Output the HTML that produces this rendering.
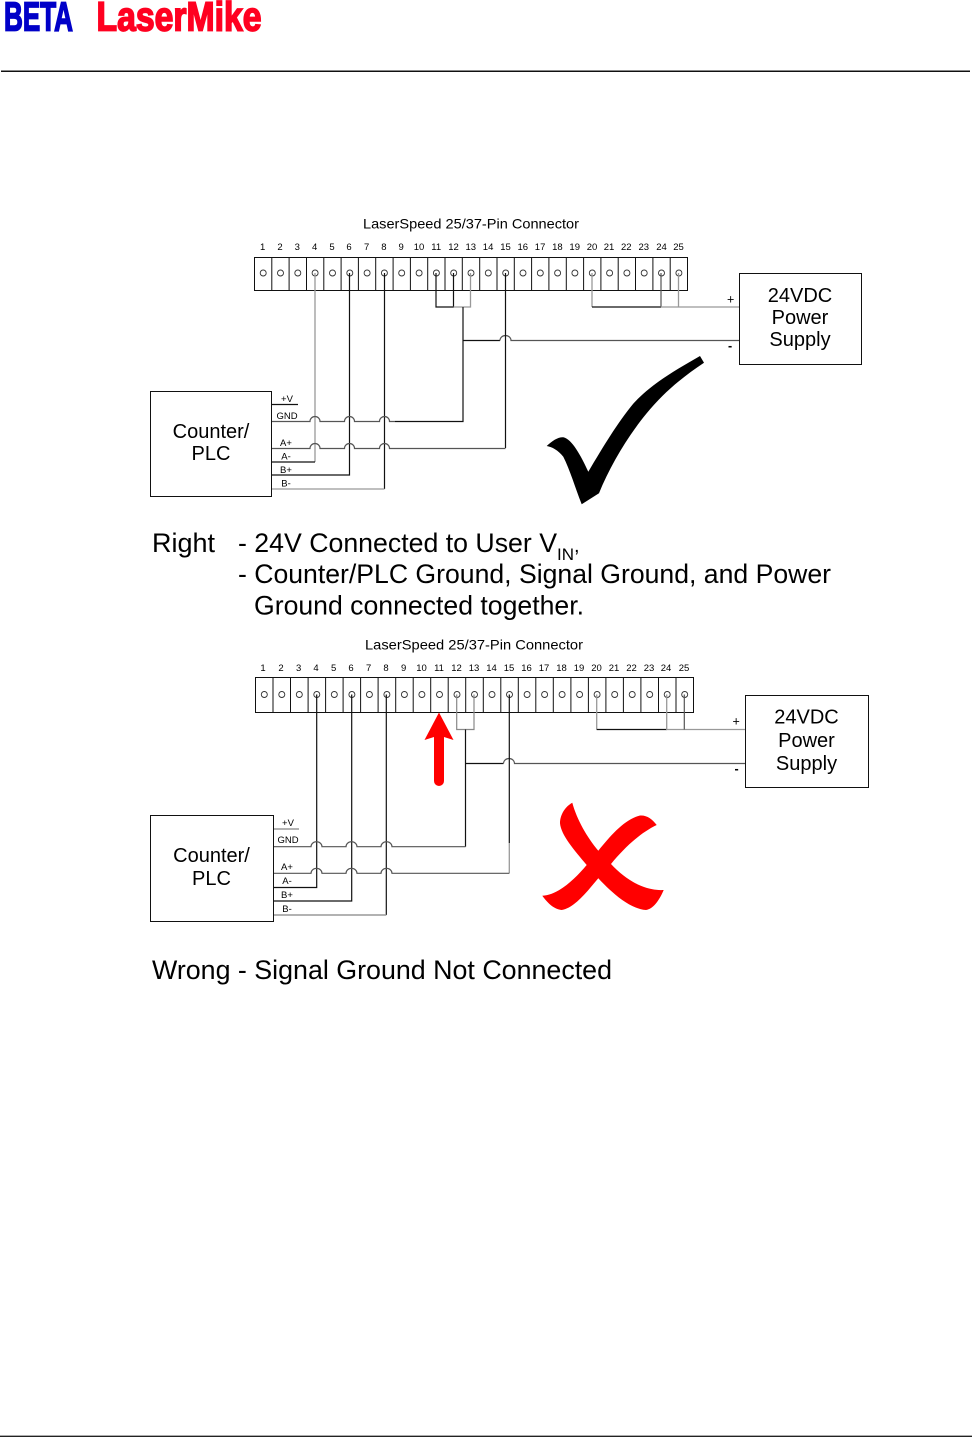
<!DOCTYPE html>
<html>
<head>
<meta charset="utf-8">
<title>LaserSpeed wiring</title>
<style>
html,body{margin:0;padding:0;background:#fff}
svg{display:block}
text{font-family:"Liberation Sans",Arial,sans-serif;fill:#000}
.n text{font-size:9.5px;text-anchor:middle}
.s text{font-size:9.5px;text-anchor:middle}
.b{font-size:20px;text-anchor:middle}
.m{font-size:27px}
.k{fill:none;stroke:#111;stroke-width:1.2}
.g{fill:none;stroke:#999;stroke-width:1.3}
.d{fill:none;stroke:#555;stroke-width:1.2}
.c circle{fill:none;stroke:#333;stroke-width:.9}
</style>
</head>
<body>
<svg width="972" height="1437" viewBox="0 0 972 1437" xmlns="http://www.w3.org/2000/svg">
<rect width="972" height="1437" fill="#fff"/>

<!-- header -->
<text x="4" y="30.5" font-size="41" font-weight="bold" textLength="69" lengthAdjust="spacingAndGlyphs" style="fill:#0000c8;stroke:#0000c8;stroke-width:1.7">BETA</text>
<text x="96.5" y="30.5" font-size="41" font-weight="bold" textLength="165" lengthAdjust="spacingAndGlyphs" style="fill:#ff0020;stroke:#ff0020;stroke-width:1.7">LaserMike</text>
<path d="M1 71.2H970" stroke="#111" stroke-width="1.5" fill="none"/>
<path d="M0 1436.3H972" stroke="#222" stroke-width="1.3" fill="none"/>

<!-- TOP DIAGRAM -->
<text x="363" y="228.5" font-size="14" textLength="216" lengthAdjust="spacingAndGlyphs">LaserSpeed 25/37-Pin Connector</text>
<g class="n">
<text x="262.7" y="250">1</text><text x="280" y="250">2</text><text x="297.3" y="250">3</text><text x="314.6" y="250">4</text><text x="332" y="250">5</text><text x="349" y="250">6</text><text x="366.6" y="250">7</text><text x="383.9" y="250">8</text><text x="401.2" y="250">9</text><text x="419" y="250">10</text><text x="436.2" y="250">11</text><text x="453.5" y="250">12</text><text x="470.8" y="250">13</text><text x="488.1" y="250">14</text><text x="505.5" y="250">15</text><text x="522.8" y="250">16</text><text x="540.1" y="250">17</text><text x="557.4" y="250">18</text><text x="574.7" y="250">19</text><text x="592" y="250">20</text><text x="609" y="250">21</text><text x="626.3" y="250">22</text><text x="643.8" y="250">23</text><text x="661.5" y="250">24</text><text x="678.5" y="250">25</text>
</g>
<rect x="254.5" y="257.5" width="433" height="33" fill="none" stroke="#111" stroke-width="1"/>
<path fill="none" stroke="#111" stroke-width="1" d="M271.8 257.5V290.5M289.1 257.5V290.5M306.5 257.5V290.5M323.8 257.5V290.5M341.1 257.5V290.5M358.4 257.5V290.5M375.7 257.5V290.5M393.1 257.5V290.5M410.4 257.5V290.5M427.7 257.5V290.5M445 257.5V290.5M462.3 257.5V290.5M479.7 257.5V290.5M497 257.5V290.5M514.3 257.5V290.5M531.6 257.5V290.5M548.9 257.5V290.5M566.3 257.5V290.5M583.6 257.5V290.5M600.9 257.5V290.5M618.2 257.5V290.5M635.5 257.5V290.5M652.9 257.5V290.5M670.2 257.5V290.5"/>
<g class="c">
<circle cx="263.2" cy="273" r="3"/><circle cx="280.5" cy="273" r="3"/><circle cx="297.8" cy="273" r="3"/><circle cx="315.1" cy="273" r="3"/><circle cx="332.5" cy="273" r="3"/><circle cx="349.8" cy="273" r="3"/><circle cx="367.1" cy="273" r="3"/><circle cx="384.4" cy="273" r="3"/><circle cx="401.7" cy="273" r="3"/><circle cx="419.1" cy="273" r="3"/><circle cx="436.4" cy="273" r="3"/><circle cx="453.7" cy="273" r="3"/><circle cx="471" cy="273" r="3"/><circle cx="488.3" cy="273" r="3"/><circle cx="505.7" cy="273" r="3"/><circle cx="523" cy="273" r="3"/><circle cx="540.3" cy="273" r="3"/><circle cx="557.6" cy="273" r="3"/><circle cx="574.9" cy="273" r="3"/><circle cx="592.3" cy="273" r="3"/><circle cx="609.6" cy="273" r="3"/><circle cx="626.9" cy="273" r="3"/><circle cx="644.2" cy="273" r="3"/><circle cx="661.5" cy="273" r="3"/><circle cx="678.9" cy="273" r="3"/>
</g>
<!-- top wires -->
<path class="g" d="M315 273V462"/>
<path class="k" d="M315 462H272"/>
<path class="k" d="M349.5 273V475H272"/>
<path class="k" d="M384.5 273V489"/>
<path class="g" d="M384.5 489H272"/>
<path class="k" d="M436 273V307H453.5V273"/>
<path class="g" d="M453.5 307H470.5V273"/>
<path class="k" d="M463 307V421.5H395"/>
<path class="d" d="M395 421.5H389.5a5 5 0 0 0 -10 0H354.5a5 5 0 0 0 -10 0H320a5 5 0 0 0 -10 0H272"/>
<path class="k" d="M463 340.5H500"/>
<path class="d" d="M500 340.5a5.5 5 0 0 1 11 0H739.5"/>
<path class="k" d="M505.5 273V448"/>
<path class="d" d="M505.5 448.5H389.5a5 5 0 0 0 -10 0H354.5a5 5 0 0 0 -10 0H320a5 5 0 0 0 -10 0H272"/>
<path class="g" d="M592 273V307"/>
<path class="k" d="M592 307H661"/>
<path class="d" d="M661 273V307"/>
<path class="g" d="M661 307H739.5M678.5 273V307"/>
<path class="k" d="M272 404.5H298"/>
<!-- top boxes -->
<rect x="739.5" y="273.5" width="122" height="91" fill="#fff" stroke="#111" stroke-width="1"/>
<text class="b" x="800" y="302">24VDC</text>
<text class="b" x="800" y="324">Power</text>
<text class="b" x="800" y="346">Supply</text>
<text x="727" y="303.5" font-size="12.5">+</text>
<text x="728" y="350" font-size="12.5" font-weight="bold">-</text>
<rect x="150.5" y="391.5" width="121" height="105" fill="#fff" stroke="#111" stroke-width="1"/>
<text class="b" x="211" y="438">Counter/</text>
<text class="b" x="211" y="460">PLC</text>
<g class="s">
<text x="287" y="402">+V</text><text x="287" y="419">GND</text><text x="286" y="446">A+</text><text x="286" y="459.5">A-</text><text x="286" y="473">B+</text><text x="286" y="486.5">B-</text>
</g>
<path fill="#000" d="M546.7 446C552 441 558 437 563.3 437.3C572 439 581 456 588.3 471.7C603 447 618 422 633 404C652 383 676 370 700 356L704 362.7C684 376 664 392 646.7 413.3C628 436 610 466 599 493.3L581.7 504.3C575 487 570 470 563.3 456.7C558 450 552 447 546.7 446Z"/>

<!-- RIGHT text -->
<text class="m" x="152" y="552" textLength="63" lengthAdjust="spacingAndGlyphs">Right</text>
<text class="m" x="238" y="552" textLength="319" lengthAdjust="spacingAndGlyphs">- 24V Connected to User V</text>
<text x="557" y="560" font-size="17" textLength="17" lengthAdjust="spacingAndGlyphs">IN</text>
<text x="574" y="552" font-size="20">,</text>
<text class="m" x="238" y="583" textLength="593" lengthAdjust="spacingAndGlyphs">- Counter/PLC Ground, Signal Ground, and Power</text>
<text class="m" x="254" y="614.5" textLength="330" lengthAdjust="spacingAndGlyphs">Ground connected together.</text>

<!-- BOTTOM DIAGRAM -->
<text x="365" y="649.5" font-size="14" textLength="218" lengthAdjust="spacingAndGlyphs">LaserSpeed 25/37-Pin Connector</text>
<g class="n">
<text x="263" y="671">1</text><text x="281" y="671">2</text><text x="298.7" y="671">3</text><text x="316" y="671">4</text><text x="333.7" y="671">5</text><text x="351" y="671">6</text><text x="368.7" y="671">7</text><text x="386" y="671">8</text><text x="403.7" y="671">9</text><text x="421.5" y="671">10</text><text x="439" y="671">11</text><text x="456.5" y="671">12</text><text x="474" y="671">13</text><text x="491.5" y="671">14</text><text x="509" y="671">15</text><text x="526.5" y="671">16</text><text x="544" y="671">17</text><text x="561.5" y="671">18</text><text x="579" y="671">19</text><text x="596.5" y="671">20</text><text x="614" y="671">21</text><text x="631.5" y="671">22</text><text x="649" y="671">23</text><text x="666" y="671">24</text><text x="684" y="671">25</text>
</g>
<rect x="255.5" y="677.5" width="438" height="35" fill="none" stroke="#111" stroke-width="1"/>
<path fill="none" stroke="#111" stroke-width="1" d="M273 677.5V712.5M290.5 677.5V712.5M308.1 677.5V712.5M325.6 677.5V712.5M343.1 677.5V712.5M360.6 677.5V712.5M378.1 677.5V712.5M395.7 677.5V712.5M413.2 677.5V712.5M430.7 677.5V712.5M448.2 677.5V712.5M465.7 677.5V712.5M483.3 677.5V712.5M500.8 677.5V712.5M518.3 677.5V712.5M535.8 677.5V712.5M553.3 677.5V712.5M570.9 677.5V712.5M588.4 677.5V712.5M605.9 677.5V712.5M623.4 677.5V712.5M640.9 677.5V712.5M658.5 677.5V712.5M676 677.5V712.5"/>
<g class="c">
<circle cx="264.3" cy="694.5" r="3"/><circle cx="281.8" cy="694.5" r="3"/><circle cx="299.3" cy="694.5" r="3"/><circle cx="316.8" cy="694.5" r="3"/><circle cx="334.3" cy="694.5" r="3"/><circle cx="351.9" cy="694.5" r="3"/><circle cx="369.4" cy="694.5" r="3"/><circle cx="386.9" cy="694.5" r="3"/><circle cx="404.4" cy="694.5" r="3"/><circle cx="421.9" cy="694.5" r="3"/><circle cx="439.5" cy="694.5" r="3"/><circle cx="457" cy="694.5" r="3"/><circle cx="474.5" cy="694.5" r="3"/><circle cx="492" cy="694.5" r="3"/><circle cx="509.5" cy="694.5" r="3"/><circle cx="527.1" cy="694.5" r="3"/><circle cx="544.6" cy="694.5" r="3"/><circle cx="562.1" cy="694.5" r="3"/><circle cx="579.6" cy="694.5" r="3"/><circle cx="597.1" cy="694.5" r="3"/><circle cx="614.7" cy="694.5" r="3"/><circle cx="632.2" cy="694.5" r="3"/><circle cx="649.7" cy="694.5" r="3"/><circle cx="667.2" cy="694.5" r="3"/><circle cx="684.7" cy="694.5" r="3"/>
</g>
<!-- bottom wires -->
<path class="k" d="M316.7 694.5V887.5H273.5"/>
<path class="k" d="M351.7 694.5V901H273.5"/>
<path class="k" d="M386.3 694.5V915"/>
<path class="g" d="M386.3 915H273.5" style="stroke-width:1.6"/>
<path class="d" d="M456.7 694.5V729.5H474V694.5" style="stroke:#888"/>
<path class="k" d="M465.5 729.5V846.7"/>
<path class="d" d="M465.5 846.7H392a5.5 5 0 0 0 -11 0H357a5.5 5 0 0 0 -11 0H322a5.5 5 0 0 0 -11 0H273.5"/>
<path class="k" d="M465.5 763.5H503.5"/>
<path class="d" d="M503.5 763.5a5.5 5 0 0 1 11 0H745.5"/>
<path class="k" d="M509.3 694.5V843"/>
<path class="g" d="M509.3 843V873.3"/>
<path class="d" d="M509.3 873.3H392a5.5 5 0 0 0 -11 0H357a5.5 5 0 0 0 -11 0H322a5.5 5 0 0 0 -11 0H273.5"/>
<path class="g" d="M596.7 694.5V729.5"/>
<path class="k" d="M596.7 729.5H666.7"/>
<path class="g" d="M666.7 694.5V729.5H745.5"/>
<path class="d" d="M684.3 694.5V729.5"/>
<path class="g" d="M273.5 829H299" style="stroke-width:1.6"/>
<!-- bottom boxes -->
<rect x="745.5" y="695.5" width="123" height="92" fill="#fff" stroke="#111" stroke-width="1"/>
<text class="b" x="806.5" y="723.5">24VDC</text>
<text class="b" x="806.5" y="747">Power</text>
<text class="b" x="806.5" y="770">Supply</text>
<text x="732.5" y="725.5" font-size="12.5">+</text>
<text x="734.5" y="773" font-size="12.5" font-weight="bold">-</text>
<rect x="150.5" y="815.5" width="123" height="106" fill="#fff" stroke="#111" stroke-width="1"/>
<text class="b" x="211.5" y="862">Counter/</text>
<text class="b" x="211.5" y="885">PLC</text>
<g class="s">
<text x="288" y="826">+V</text><text x="288" y="843">GND</text><text x="287" y="870">A+</text><text x="287" y="884">A-</text><text x="287" y="898">B+</text><text x="287" y="912">B-</text>
</g>
<!-- red arrow -->
<path fill="#f00" d="M439 712.5L453.5 740L444 737V781a5 5 0 0 1 -10 0V737L424.5 740Z"/>
<!-- red X -->
<path fill="#f00" d="M572.3 802.7C577 820 587 837 598.3 850.7C611 835 625 819 640 815.5C647 815 652 819 656.7 825C640 833 624 848 611 864C627 881 645 891 663.7 890C659 901 653 909 646 910C630 909 612 893 598.3 878.3C586 893 574 908 561.7 910C553 909 547 902 542.3 895.7C558 895 574 880 586.7 865C574 850 561 835 560 823.3C560 814 566 806 572.3 802.7Z"/>

<text class="m" x="152" y="979" textLength="460" lengthAdjust="spacingAndGlyphs">Wrong - Signal Ground Not Connected</text>
</svg>
</body>
</html>
